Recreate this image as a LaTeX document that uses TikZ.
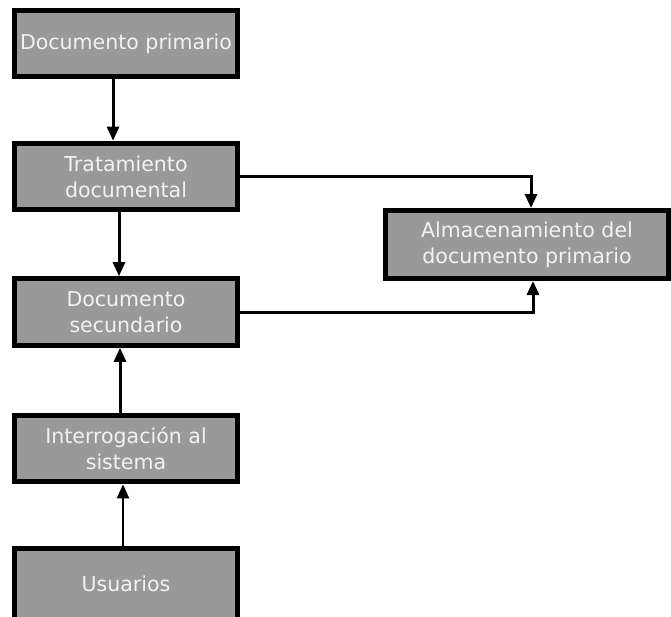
\documentclass[tikz,border=0pt]{standalone}
\usepackage{fontspec}
\setmainfont{DejaVu Sans}
\usetikzlibrary{arrows.meta, positioning, calc}
\definecolor{BoxGray}{HTML}{999999}
\definecolor{LabelWhite}{HTML}{F2F2F2}

\begin{document}
\begin{tikzpicture}[x=0.75pt, y=-0.75pt,
    box/.style={draw=black, fill=BoxGray, line width=3.75pt, text=LabelWhite,
        minimum width=167.25pt, minimum height=50pt, inner sep=0pt, align=center,
        font=\fontsize{15.4}{19.5}\selectfont},
    arr/.style={-{Triangle[width=9pt, length=10.5pt]}, line width=2.25pt}]
                % Frame of the page
                \useasboundingbox (0,0) rectangle (671,617);
                \clip (0,0) rectangle (671,617);

                % Main column
                \node[box] (prim) at (126,43.5) {Documento primario};
                \node[box] (trat) at (126,176.5) {Tratamiento\\documental};
                \node[box] (secu) at (126,312) {Documento\\secundario};
                \node[box] (inte) at (126,448.5) {Interrogación al\\sistema};
                \node[box, minimum height=53.25pt] (usua) at (126,584) {Usuarios};

                % Storage box
                \node[box, minimum width=212.25pt, minimum height=51pt] (alma) at (527,244.5) {Almacenamiento del\\documento primario};

                % Vertical flow
                \draw[arr] ([xshift=-9.75pt]prim.south) -- ([xshift=-9.75pt]trat.north);
                \draw[arr] ([xshift=-5.25pt]trat.south) -- ([xshift=-5.25pt]secu.north);
                \draw[arr] ([xshift=-4.5pt]inte.north) -- ([xshift=-4.5pt]secu.south);
                \draw[arr, line width=1.5pt] ([xshift=-2.25pt]usua.north) -- ([xshift=-2.25pt]inte.south);

                % Links to storage
                \draw[arr] (trat.east) -| ([xshift=3pt]alma.north);
                \draw[arr] (secu.east) -| ([xshift=4.5pt]alma.south);
\end{tikzpicture}
\end{document}
